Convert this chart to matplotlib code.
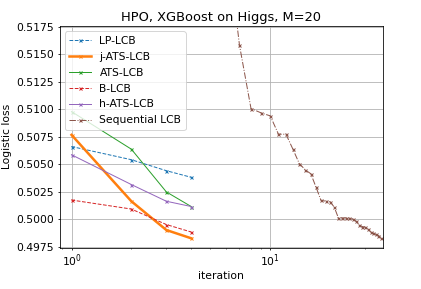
import numpy as np
import matplotlib
matplotlib.use('Agg')
import matplotlib.pyplot as plt

# parallel batch methods, evaluated at iterations 1..4
iters_par = [1, 2, 3, 4]
lp_lcb = [0.5066, 0.5054, 0.5044, 0.5038]
j_ats_lcb = [0.50766, 0.50162, 0.4990, 0.49825]
ats_lcb = [0.50978, 0.50636, 0.50247, 0.50114]
b_lcb = [0.50173, 0.50091, 0.4995, 0.49882]
h_ats_lcb = [0.50585, 0.50314, 0.50162, 0.50114]

# sequential LCB, iterations 1..36
iters_seq = list(range(1, 37))
seq_lcb = [0.5600, 0.5450, 0.5370, 0.5320, 0.5290, 0.5260, 0.51583, 0.51006,
           0.50966, 0.50939, 0.50772, 0.50772, 0.50636, 0.50505, 0.50448, 0.50412,
           0.50290, 0.50170, 0.50163, 0.50158, 0.50108, 0.50012, 0.50010, 0.50010,
           0.50008, 0.50000, 0.49980, 0.49945, 0.49932, 0.49926, 0.49910, 0.49882,
           0.49872, 0.49860, 0.49850, 0.49832]

plt.rcParams['font.size'] = 10.8
plt.rcParams['xtick.major.size'] = 2
plt.rcParams['ytick.major.size'] = 2
plt.rcParams['xtick.minor.size'] = 1
plt.rcParams['xtick.major.pad'] = 2.5
plt.rcParams['ytick.major.pad'] = 3.5

fig = plt.figure(figsize=(421/72, 289/72), dpi=72)
ax = fig.add_axes([59.5/421, 1-247.5/289, (382.7-59.5)/421, (247.5-26)/289])

ms = 3
ax.plot(iters_par, lp_lcb, '--', marker='x', ms=ms, color='C0', lw=1, label='LP-LCB')
ax.plot(iters_par, j_ats_lcb, '-', marker='x', ms=ms, color='C1', lw=2.5, label='j-ATS-LCB')
ax.plot(iters_par, ats_lcb, '-', marker='x', ms=ms, color='C2', lw=1, label='ATS-LCB')
ax.plot(iters_par, b_lcb, '--', marker='x', ms=ms, color='C3', lw=1, label='B-LCB')
ax.plot(iters_par, h_ats_lcb, '-', marker='x', ms=ms, color='C4', lw=1, label='h-ATS-LCB')
ax.plot(iters_seq, seq_lcb, '-.', marker='x', ms=ms, color='C5', lw=1, label='Sequential LCB')

ax.set_xscale('log')
ax.set_xlim(0.87, 36.8)
ax.set_ylim(0.49741, 0.51757)
ax.set_yticks(np.arange(0.4975, 0.5176, 0.0025))
ax.grid(True)
ax.set_xlabel('iteration', labelpad=2)
ax.set_ylabel('Logistic loss')
ax.set_title('HPO, XGBoost on Higgs, M=20', pad=5)
ax.legend(loc='upper left', labelspacing=0.55)

fig.savefig('out.png', dpi=72)
